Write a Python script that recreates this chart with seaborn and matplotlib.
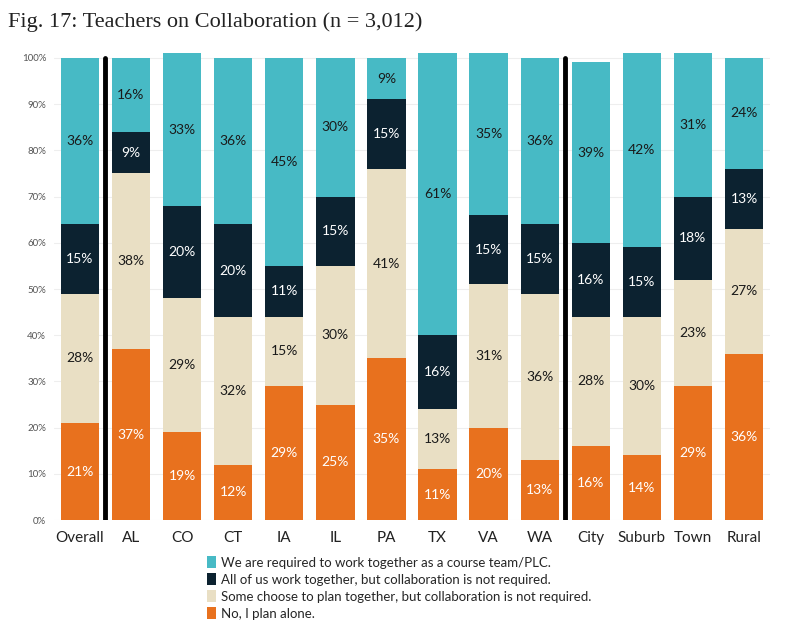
import numpy as np
import pandas as pd
import matplotlib
matplotlib.use('Agg')
import matplotlib.pyplot as plt
from matplotlib.patches import Patch
import seaborn as sns

# --- Dane ---
groups = ['Overall', 'AL', 'CO', 'CT', 'IA', 'IL', 'PA', 'TX', 'VA', 'WA',
          'City', 'Suburb', 'Town', 'Rural']
plan_alone = [21, 37, 19, 12, 29, 25, 35, 11, 20, 13, 16, 14, 29, 36]
some_choose = [28, 38, 29, 32, 15, 30, 41, 13, 31, 36, 28, 30, 23, 27]
all_together = [15, 9, 20, 20, 11, 15, 15, 16, 15, 15, 16, 15, 18, 13]
required = [36, 16, 33, 36, 45, 30, 9, 61, 35, 36, 39, 42, 31, 24]

series_names = [
    'No, I plan alone.',
    'Some choose to plan together, but collaboration is not required.',
    'All of us work together, but collaboration is not required.',
    'We are required to work together as a course team/PLC.',
]
colors = ['#E8711E', '#E9DFC4', '#0C2230', '#47BAC5']
text_colors = ['white', '#1a1a1a', 'white', '#1a1a1a']

sns.set_theme(style='white')
plt.rcParams['font.family'] = ['Lato', 'DejaVu Sans']

df = pd.DataFrame({'group': groups, 's0': plan_alone, 's1': some_choose,
                   's2': all_together, 's3': required})
cols = ['s0', 's1', 's2', 's3']
cum = df[cols].cumsum(axis=1)

fig = plt.figure(figsize=(8, 6.26), dpi=100)
ax = fig.add_axes([0.068, 0.169, 0.894, 0.746])

# rysujemy od najwyzszej sumy, kolejne warstwy zaslaniaja poprzednie
for i in reversed(range(4)):
    sns.barplot(x=df['group'], y=cum[cols[i]], color=colors[i], width=0.75,
                saturation=1, ax=ax, order=groups, linewidth=0, edgecolor='none')

# etykiety procentowe
for j, g in enumerate(groups):
    bottom = 0
    for i, c in enumerate(cols):
        v = df.loc[j, c]
        ax.text(j, bottom + v / 2, f'{v}%', ha='center', va='center',
                fontsize=10, color=text_colors[i])
        bottom += v

# separatory
for xs in [0.5, 9.5]:
    ax.axvline(xs, color='black', lw=3.5, ymin=0, ymax=100 / 101)

ax.set_xlim(-0.5, 13.5)
ax.set_ylim(0, 101)
ax.set_yticks(range(0, 101, 10))
ax.set_yticklabels([f'{t}%' for t in range(0, 101, 10)], fontsize=7, color='#555555')
ax.tick_params(axis='x', labelsize=11, length=0, pad=8, labelcolor='#222222')
ax.tick_params(axis='y', length=0, pad=6)
ax.set_xlabel('')
ax.set_ylabel('')
ax.grid(axis='y', color='#eeeeee', lw=0.8)
ax.set_axisbelow(True)
for s in ax.spines.values():
    s.set_visible(False)

fig.text(0.01, 0.965, 'Fig. 17: Teachers on Collaboration (n = 3,012)',
         fontsize=16, family=['Liberation Serif'], ha='left', va='center', color='#222222')

handles = [Patch(facecolor=colors[i], edgecolor='none', label=series_names[i])
           for i in [3, 2, 1, 0]]
fig.legend(handles=handles, loc='upper left', bbox_to_anchor=(0.252, 0.12),
           frameon=False, fontsize=9.5, handlelength=0.7, handleheight=1.0,
           handletextpad=0.4, labelspacing=0.35, borderaxespad=0)

plt.savefig('out.png', dpi=100)
plt.close()
